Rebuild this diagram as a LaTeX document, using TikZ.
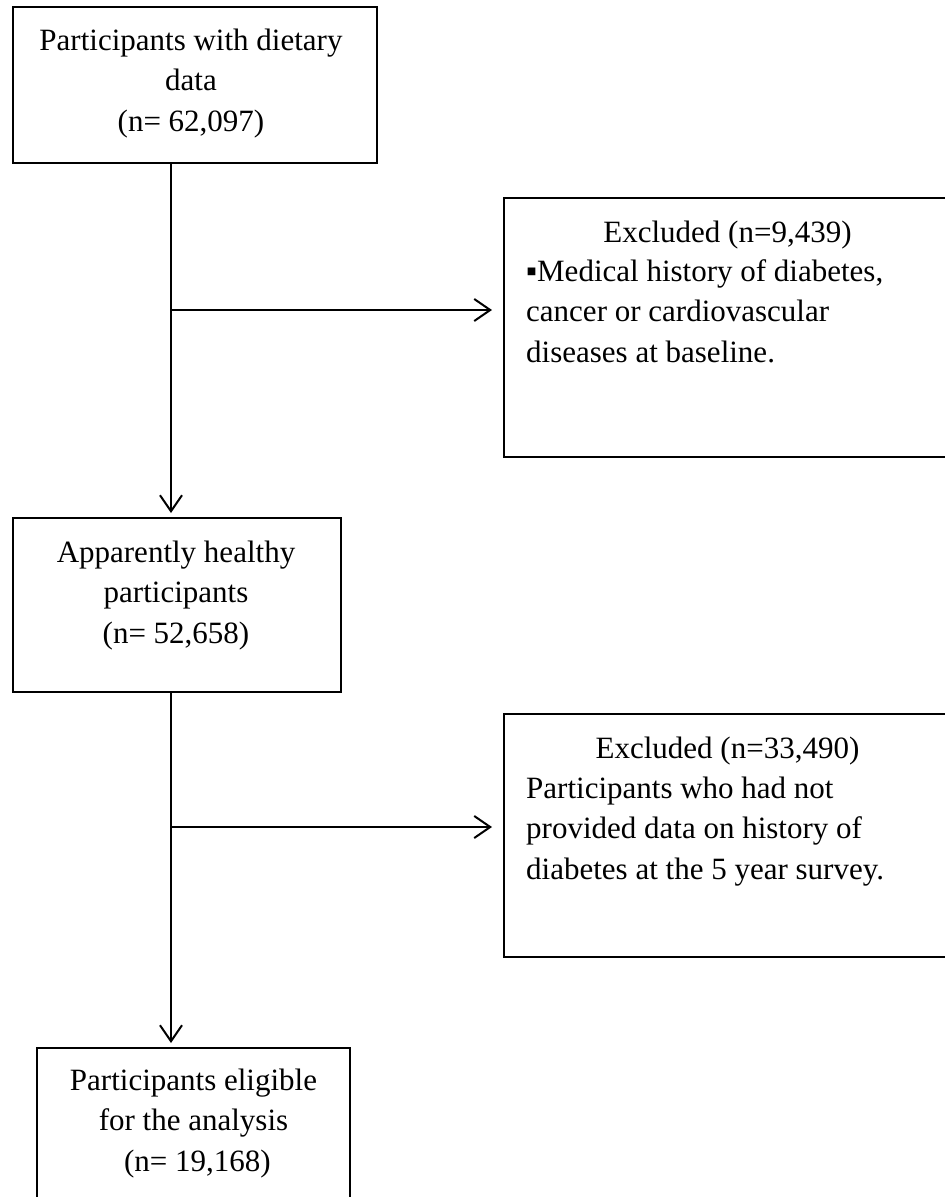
\documentclass[tikz,border=0pt]{standalone}
\usepackage{fontspec}
\setmainfont{Liberation Serif}
\usetikzlibrary{arrows.meta}
\begin{document}
\begin{tikzpicture}[x=1pt,y=-1pt,
  box/.style={draw=black, line width=2pt, inner sep=0pt},
  txt/.style={font=\fontsize{31}{40.5}\selectfont, inner sep=0pt, align=center, anchor=north},
  ltxt/.style={font=\fontsize{31}{40.5}\selectfont, inner sep=0pt, align=left, anchor=north west},
  conn/.style={draw=black, line width=2pt, -{Straight Barb[length=16pt,width=22pt]}}
]
\useasboundingbox (0,0) rectangle (945,1197);
\fill[white] (0,0) rectangle (945,1197);
\clip (0,0) rectangle (945,1197);

% boxes
\node[box, minimum width=364pt, minimum height=156pt] (b1) at (195,85) {};
\node[box, minimum width=447pt, minimum height=259pt] (e1) at (727.5,327.5) {};
\node[box, minimum width=328pt, minimum height=174pt] (b3) at (177,605) {};
\node[box, minimum width=447pt, minimum height=243pt] (e2) at (727.5,835.5) {};
\node[box, minimum width=313pt, minimum height=200pt] (b5) at (193.5,1148) {};

% texts
\node[txt] (b1t) at (191,26) {\rule{0pt}{24pt}Participants with dietary\\data\\(n= 62,097)};
\node[txt] (e1t) at (727.5,218) {\rule{0pt}{24pt}Excluded (n=9,439)};
\node[ltxt] (e1b) at (526,257) {\rule{0pt}{24pt}▪Medical history of diabetes,\\cancer or cardiovascular\\diseases at baseline.};
\node[txt] (b3t) at (176,538) {\rule{0pt}{24pt}Apparently healthy\\participants\\(n= 52,658)};
\node[txt] (e2t) at (727.5,734) {\rule{0pt}{24pt}Excluded (n=33,490)};
\node[ltxt] (e2b) at (526,774) {\rule{0pt}{24pt}Participants who had not\\provided data on history of\\diabetes at the 5 year survey.};
\node[txt] (b5t) at (193.5,1066) {\rule{0pt}{24pt}Participants eligible\\for the analysis\\\hspace{7.75pt}(n= 19,168)};

% connectors
\coordinate (v) at (171,0);
\coordinate (j1) at (171,310);
\coordinate (j2) at (171,827);
\draw[conn, shorten >=4pt] (b1.south -| v) -- (b3.north -| v);
\draw[conn, shorten >=11pt] (j1) -- (e1.west |- j1);
\draw[conn, shorten >=4pt] (b3.south -| v) -- (b5.north -| v);
\draw[conn, shorten >=11pt] (j2) -- (e2.west |- j2);
\end{tikzpicture}
\end{document}
